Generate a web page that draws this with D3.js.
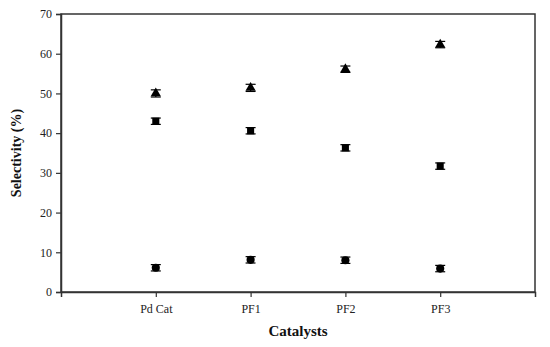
<!DOCTYPE html>
<html><head><meta charset="utf-8">
<script src="https://cdn.jsdelivr.net/npm/d3@7"></script>
<style>body{margin:0;background:#fff;} text{font-family:"Liberation Serif","Times New Roman",serif;}</style>
</head><body><svg id="c" width="550" height="347"></svg>
<script>
const categories = ["Pd Cat", "PF1", "PF2", "PF3"];
const triangleVals = [50.0, 51.4, 56.1, 62.3];
const triangleErr = [0.9, 0.9, 0.8, 0.8];
const squareVals = [43.0, 40.6, 36.3, 31.7];
const squareErr = [0.8, 0.8, 0.8, 0.8];
const circleVals = [6.1, 8.1, 8.0, 5.9];
const circleErr = [0.8, 0.8, 0.8, 0.8];
const yTicks = [0, 10, 20, 30, 40, 50, 60, 70];

const svg = d3.select("#c");
const m = {l: 61, r: 15, t: 14, b: 55};
const W = 550, H = 347;
const x = d3.scaleLinear().domain([0, 5]).range([m.l, W - m.r]);
const y = d3.scaleLinear().domain([0, 70]).range([H - m.b, m.t]);

svg.append("rect").attr("x", x(0)).attr("y", y(70)).attr("width", x(5) - x(0)).attr("height", y(0) - y(70))
  .attr("fill", "none").attr("stroke", "#333").attr("stroke-width", 1.5);

const xa = svg.append("g").attr("transform", `translate(0,${y(0)})`)
  .call(d3.axisBottom(x).tickValues([1,2,3,4]).tickFormat(d => categories[d-1]).tickSize(5).tickPadding(7));
const ya = svg.append("g").attr("transform", `translate(${x(0)},0)`)
  .call(d3.axisLeft(y).tickValues(yTicks).tickSize(5).tickPadding(4));
[xa, ya].forEach(a => {
  a.select(".domain").attr("stroke", "#333").attr("stroke-width", 1.5);
  a.selectAll(".tick line").attr("stroke", "#333").attr("stroke-width", 1.2);
  a.selectAll("text").attr("font-size", 12).attr("fill", "#222").style("font-family", "'Liberation Serif',serif");
});

function series(vals, errs, shape, size) {
  const g = svg.append("g");
  vals.forEach((v, i) => {
    const cx = x(i + 1), cy = y(v);
    const e1 = y(v + errs[i]), e2 = y(v - errs[i]);
    g.append("line").attr("x1", cx).attr("x2", cx).attr("y1", e1).attr("y2", e2).attr("stroke", "#000").attr("stroke-width", 1.2);
    [e1, e2].forEach(ey => g.append("line").attr("x1", cx - 5).attr("x2", cx + 5).attr("y1", ey).attr("y2", ey).attr("stroke", "#000").attr("stroke-width", 1.2));
    const sym = d3.symbol().type(shape).size(size);
    g.append("path").attr("d", sym()).attr("transform", `translate(${cx},${cy})`).attr("fill", "#000");
  });
}
series(triangleVals, triangleErr, d3.symbolTriangle, 45);
series(squareVals, squareErr, d3.symbolSquare, 50);
series(circleVals, circleErr, d3.symbolCircle, 52);

svg.append("text").attr("x", (x(0) + x(5)) / 2).attr("y", 336).attr("text-anchor", "middle")
  .attr("font-size", 15).attr("font-weight", "bold").attr("fill", "#111").text("Catalysts");
svg.append("text").attr("transform", `translate(21,${(y(0) + y(70)) / 2}) rotate(-90)`).attr("text-anchor", "middle")
  .attr("font-size", 14).attr("font-weight", "bold").attr("fill", "#111").text("Selectivity (%)");
</script></body></html>
